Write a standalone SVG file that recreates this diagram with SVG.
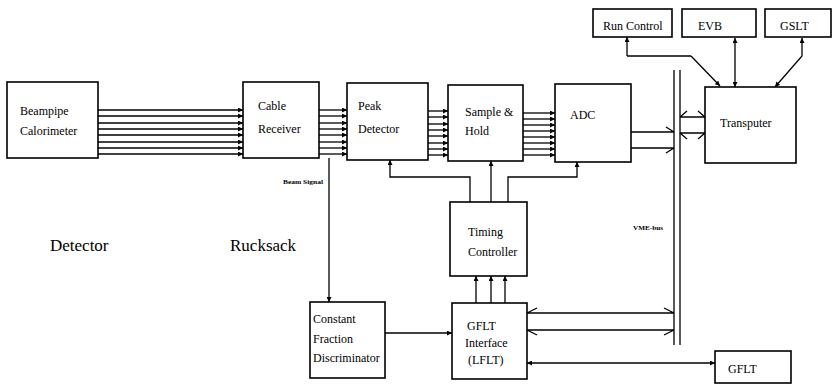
<svg xmlns="http://www.w3.org/2000/svg" width="835" height="384" viewBox="0 0 835 384">
<style>
.box{fill:#fff;stroke:#000;stroke-width:1.6}
.ln{fill:none;stroke:#000;stroke-width:1.3}
text{font-family:'Liberation Serif','DejaVu Serif','Times New Roman',serif;fill:#000}
.t{font-size:12px}
.big{font-size:17px}
.tiny{font-size:6px;font-weight:bold}
</style>
<defs>
<marker id="a" viewBox="0 0 10 10" refX="10" refY="5" markerWidth="6" markerHeight="5" markerUnits="userSpaceOnUse" orient="auto-start-reverse">
<path d="M0,0 L10,5 L0,10 Z" fill="#000"/>
</marker>
</defs>
<rect width="835" height="384" fill="#fff"/>
<g id="connectors">
<g class="ln" marker-end="url(#a)">
<line x1="98" y1="110" x2="243" y2="110"/><line x1="98" y1="116" x2="243" y2="116"/><line x1="98" y1="123" x2="243" y2="123"/><line x1="98" y1="129" x2="243" y2="129"/><line x1="98" y1="135" x2="243" y2="135"/><line x1="98" y1="142" x2="243" y2="142"/><line x1="98" y1="148" x2="243" y2="148"/><line x1="98" y1="154" x2="243" y2="154"/>
<line x1="319" y1="110" x2="347" y2="110"/><line x1="319" y1="116" x2="347" y2="116"/><line x1="319" y1="123" x2="347" y2="123"/><line x1="319" y1="129" x2="347" y2="129"/><line x1="319" y1="135" x2="347" y2="135"/><line x1="319" y1="142" x2="347" y2="142"/><line x1="319" y1="148" x2="347" y2="148"/><line x1="319" y1="154" x2="347" y2="154"/>
<line x1="428" y1="111" x2="448" y2="111"/><line x1="428" y1="117" x2="448" y2="117"/><line x1="428" y1="124" x2="448" y2="124"/><line x1="428" y1="130" x2="448" y2="130"/><line x1="428" y1="136" x2="448" y2="136"/><line x1="428" y1="143" x2="448" y2="143"/><line x1="428" y1="149" x2="448" y2="149"/><line x1="428" y1="155" x2="448" y2="155"/>
<line x1="523" y1="113" x2="555" y2="113"/><line x1="523" y1="119" x2="555" y2="119"/><line x1="523" y1="125" x2="555" y2="125"/><line x1="523" y1="131" x2="555" y2="131"/><line x1="523" y1="137" x2="555" y2="137"/><line x1="523" y1="143" x2="555" y2="143"/><line x1="523" y1="149" x2="555" y2="149"/><line x1="523" y1="155" x2="555" y2="155"/>
<path d="M470,202 V177 H390 V160"/>
<path d="M491,202 V161"/>
<path d="M508,202 V177 H577 V162"/>
<path d="M476,303 V276"/><path d="M491,303 V276"/><path d="M505,303 V276"/>
<path d="M329,158 V302"/>
<path d="M385,333 H452"/>
<path d="M691,56 L720,86"/>
</g>
<g class="ln">
<path d="M627,56 V37" marker-end="url(#a)"/>
<path d="M627,56 H691"/>
<path d="M735,38 V87" marker-start="url(#a)" marker-end="url(#a)"/>
<path d="M802,38 V56 L775,87" marker-start="url(#a)" marker-end="url(#a)"/>
<path d="M527,363 H715" marker-start="url(#a)" marker-end="url(#a)"/>
<path d="M674,70 V345 M680,70 V345"/>
<path d="M631,132 H674 M631,148 H674 M666,127 L674,132 M666,153 L674,148"/>
<path d="M680,117 H705 M680,133 H705 M680,117 L687,111 M680,133 L687,139 M705,117 L698,111 M705,133 L698,139"/>
<path d="M527,313 H674 M527,330 H674 M527,313 L537,308 M527,330 L537,335 M674,313 L664,308 M674,330 L664,335"/>
</g>
</g>
<g id="beampipe"><rect class="box" x="7" y="82" width="91" height="76"/><text class="t" x="20" y="115">Beampipe</text><text class="t" x="20" y="135">Calorimeter</text></g>
<g id="cable-receiver"><rect class="box" x="243" y="82" width="76" height="76"/><text class="t" x="258" y="110">Cable</text><text class="t" x="258" y="133">Receiver</text></g>
<g id="peak-detector"><rect class="box" x="347" y="83" width="81" height="77"/><text class="t" x="358" y="110">Peak</text><text class="t" x="358" y="133">Detector</text></g>
<g id="sample-hold"><rect class="box" x="448" y="85" width="75" height="76"/><text class="t" x="465" y="116">Sample &amp;</text><text class="t" x="465" y="135">Hold</text></g>
<g id="adc"><rect class="box" x="555" y="84" width="76" height="78"/><text class="t" x="570" y="119">ADC</text></g>
<g id="run-control"><rect class="box" x="593" y="9" width="79" height="28"/><text class="t" x="603" y="30">Run Control</text></g>
<g id="evb"><rect class="box" x="682" y="9" width="74" height="28"/><text class="t" x="698" y="30">EVB</text></g>
<g id="gslt"><rect class="box" x="765" y="9" width="66" height="28"/><text class="t" x="780" y="30">GSLT</text></g>
<g id="transputer"><rect class="box" x="705" y="87" width="91" height="76"/><text class="t" x="720" y="127">Transputer</text></g>
<g id="timing-controller"><rect class="box" x="450" y="202" width="77" height="74"/><text class="t" x="468" y="236">Timing</text><text class="t" x="468" y="256">Controller</text></g>
<g id="cfd"><rect class="box" x="310" y="302" width="75" height="76"/><text class="t" x="313" y="323">Constant</text><text class="t" x="313" y="343">Fraction</text><text class="t" x="313" y="362">Discriminator</text></g>
<g id="gflt-interface"><rect class="box" x="452" y="303" width="75" height="76"/><text class="t" x="467" y="330">GFLT</text><text class="t" x="465" y="347">Interface</text><text class="t" x="468" y="364">(LFLT)</text></g>
<g id="gflt"><rect class="box" x="715" y="351" width="76" height="32"/><text class="t" x="728" y="373">GFLT</text></g>
<g id="labels">
<text class="big" x="50" y="251">Detector</text>
<text class="big" x="230" y="251">Rucksack</text>
<text class="tiny" x="283" y="184" textLength="40" lengthAdjust="spacingAndGlyphs">Beam Signal</text>
<text class="tiny" x="633" y="230" textLength="30" lengthAdjust="spacingAndGlyphs">VME-bus</text>
</g>
</svg>
